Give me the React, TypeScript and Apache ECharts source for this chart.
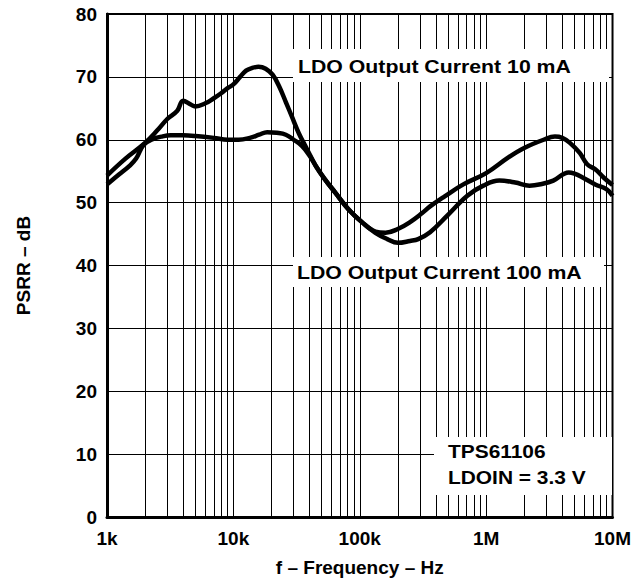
import React, { useEffect, useRef } from "react";
import * as echarts from "echarts";

// Curve 1: LDO output current 10 mA
const freq10mA = [1000, 1400, 2000, 2500, 3000, 3600, 4000, 4600, 5000, 6000, 7000, 8000, 9000, 10000, 11300, 12600, 14000, 15800, 18000, 20500, 23000, 26000, 29000, 33000, 38000, 45000, 53000, 64000, 81000, 104000, 133000, 160000, 200000, 250000, 310000, 360000, 470000, 660000, 1000000, 1500000, 2000000, 2850000, 3500000, 4000000, 4600000, 5500000, 6300000, 7300000, 8500000, 10000000];
const psrr10mA = [54.3, 57.0, 59.5, 61.5, 63.3, 64.6, 66.2, 65.6, 65.3, 65.8, 66.6, 67.4, 68.2, 68.8, 70.0, 71.0, 71.4, 71.6, 71.3, 70.3, 68.5, 66.0, 63.7, 61.0, 58.6, 55.8, 53.7, 51.6, 49.0, 46.9, 45.4, 45.2, 45.8, 46.9, 48.3, 49.4, 51.0, 52.9, 54.7, 57.2, 58.7, 60.0, 60.5, 60.3, 59.5, 57.9, 56.1, 55.3, 54.0, 52.8];

// Curve 2: LDO output current 100 mA
const freq100mA = [1000, 1250, 1500, 1700, 1950, 2300, 2700, 3200, 4000, 5000, 7000, 9000, 11000, 13500, 16000, 18500, 22000, 26000, 30000, 35000, 40000, 45000, 53000, 64000, 81000, 104000, 133000, 165000, 200000, 250000, 290000, 360000, 490000, 710000, 950000, 1270000, 1700000, 2200000, 2800000, 3400000, 4500000, 5000000, 5800000, 7300000, 9000000, 10000000];
const psrr100mA = [52.9, 54.5, 55.8, 57.0, 59.2, 60.1, 60.5, 60.7, 60.7, 60.6, 60.3, 60.0, 60.0, 60.3, 60.8, 61.2, 61.1, 60.8, 60.0, 59.0, 57.5, 55.8, 53.7, 51.6, 49.0, 46.9, 45.2, 44.2, 43.6, 43.9, 44.2, 45.3, 47.9, 51.1, 52.7, 53.5, 53.2, 52.7, 53.0, 53.5, 54.8, 54.6, 54.0, 52.9, 52.1, 51.1];

const xTickLabels = ["1k", "10k", "100k", "1M", "10M"];
const decades = [1000, 10000, 100000, 1000000];
const multipliers = [2, 3, 4, 5, 6, 7, 8, 9, 10];

const label10 = "LDO Output Current 10 mA";
const label100 = "LDO Output Current 100 mA";
const noteLines = ["TPS61106", "LDOIN = 3.3 V"];

const FONT = "'Liberation Sans', Arial, Helvetica, sans-serif";

export default function App() {
  const ref = useRef<HTMLDivElement>(null);
  useEffect(() => {
    if (!ref.current) return;
    const chart = echarts.init(ref.current, null, { renderer: "svg" });
    const gridFreqs: number[] = [];
    decades.forEach((d) => multipliers.forEach((m) => {
      const f = d * m;
      if (f < 10000000) gridFreqs.push(f);
    }));
    const textStyle = (txt: string, size = 19) => ({
      text: txt,
      fontFamily: FONT,
      fontWeight: "bold",
      fontSize: size,
      fill: "#000",
      verticalAlign: "middle",
      align: "left",
    });
    chart.setOption({
      animation: false,
      backgroundColor: "#fff",
      grid: {
        left: 107,
        right: 19,
        top: 14,
        bottom: 62,
        show: true,
        borderColor: "#000",
        borderWidth: 2,
        backgroundColor: "transparent",
      },
      xAxis: {
        type: "log",
        logBase: 10,
        min: 1000,
        max: 10000000,
        name: "f – Frequency – Hz",
        nameLocation: "middle",
        nameGap: 41,
        nameTextStyle: { fontFamily: FONT, fontWeight: "bold", fontSize: 19, color: "#000" },
        axisLine: { show: true, lineStyle: { color: "#000", width: 3 } },
        axisTick: { show: false },
        splitLine: { show: false },
        minorTick: { show: false },
        axisLabel: {
          margin: 12,
          fontFamily: FONT,
          fontWeight: "bold",
          fontSize: 19,
          color: "#000",
          formatter: (v: number) => xTickLabels[Math.round(Math.log10(v)) - 3] ?? "",
        },
      },
      yAxis: {
        type: "value",
        min: 0,
        max: 80,
        interval: 10,
        name: "PSRR – dB",
        nameLocation: "middle",
        nameGap: 74,
        nameRotate: 90,
        nameTextStyle: { fontFamily: FONT, fontWeight: "bold", fontSize: 19, color: "#000" },
        axisLine: { show: true, lineStyle: { color: "#000", width: 3 } },
        axisTick: { show: false },
        splitLine: { show: true, lineStyle: { color: "#000", width: 1 } },
        axisLabel: {
          margin: 10,
          fontFamily: FONT,
          fontWeight: "bold",
          fontSize: 19,
          color: "#000",
        },
      },
      series: [
        {
          type: "line",
          name: "grid",
          z: 1,
          silent: true,
          showSymbol: false,
          lineStyle: { opacity: 0 },
          data: [[1000, 0]],
          markLine: {
            silent: true,
            symbol: ["none", "none"],
            label: { show: false },
            lineStyle: { color: "#000", width: 1, type: "solid" },
            emphasis: { disabled: true },
            data: gridFreqs.map((f) => ({ xAxis: f })),
          },
        },
        {
          type: "line",
          name: label10,
          z: 20,
          smooth: 0.4,
          showSymbol: false,
          lineStyle: { color: "#000", width: 4.5 },
          data: freq10mA.map((f, i) => [f, psrr10mA[i]]),
        },
        {
          type: "line",
          name: label100,
          z: 20,
          smooth: 0.4,
          showSymbol: false,
          lineStyle: { color: "#000", width: 4.5 },
          data: freq100mA.map((f, i) => [f, psrr100mA[i]]),
        },
      ],
      graphic: [
        { type: "rect", z: 10, shape: { x: 293, y: 49, width: 316, height: 33 }, style: { fill: "#fff" } },
        { type: "text", z: 11, x: 298, y: 66, scaleX: 1.12, style: textStyle(label10) },
        { type: "rect", z: 10, shape: { x: 293, y: 257, width: 311, height: 30 }, style: { fill: "#fff" } },
        { type: "text", z: 11, x: 297, y: 272, scaleX: 1.12, style: textStyle(label100) },
        { type: "rect", z: 10, shape: { x: 434, y: 437, width: 178, height: 58 }, style: { fill: "#fff" } },
        { type: "text", z: 11, x: 448, y: 451, scaleX: 1.1, style: textStyle(noteLines[0]) },
        { type: "text", z: 11, x: 448, y: 477, scaleX: 1.1, style: textStyle(noteLines[1]) },
      ],
    });
    return () => chart.dispose();
  }, []);
  return (
    <div
      ref={ref}
      style={{ position: "fixed", left: 0, top: 0, width: 634, height: 582, background: "#fff" }}
    />
  );
}
